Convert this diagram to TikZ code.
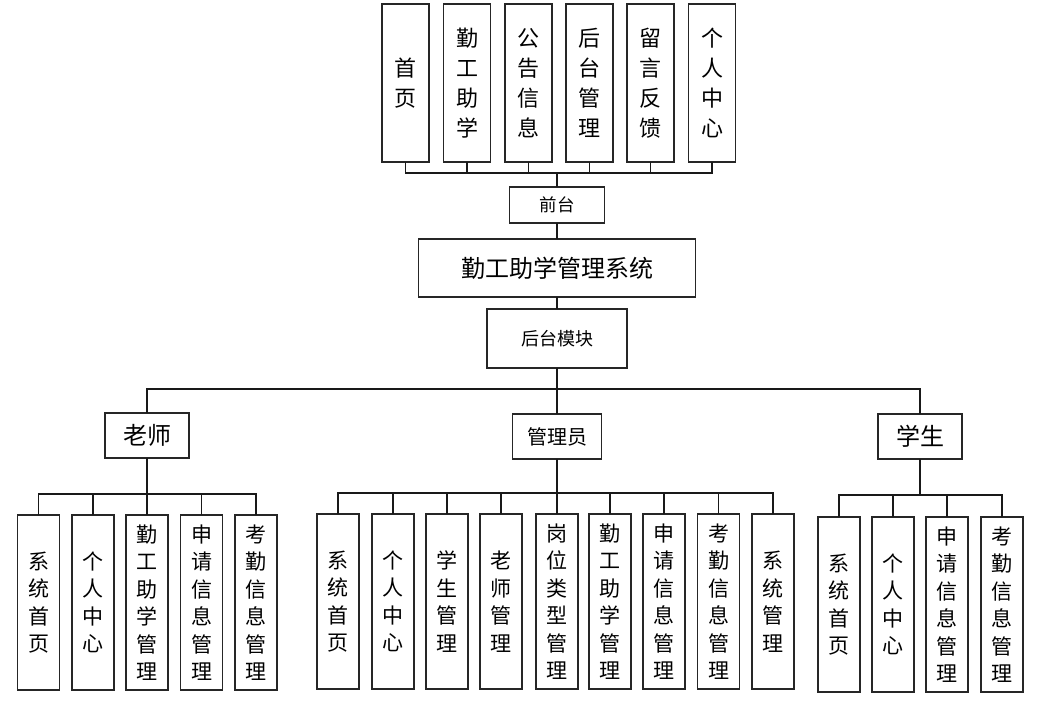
\documentclass[tikz,border=0pt]{standalone}
\usepackage{fontspec}
\setmainfont{Noto Sans CJK SC}
\begin{document}
\begin{tikzpicture}[x=1pt,y=-1pt,
  box/.style={draw=black!85, line width=1.3pt, inner sep=0pt, outer sep=0pt, align=center},
  topbox/.style={box, minimum width=47pt, minimum height=158pt, font=\fontsize{22}{30}\selectfont},
  leaf/.style={box, minimum width=42pt, minimum height=175pt, font=\fontsize{21}{27.5}\selectfont},
  role/.style={box, minimum height=45pt},
  link/.style={line width=1.6pt, draw=black!90}]
\useasboundingbox (0,0) rectangle (1052,704);

% top level
\node[topbox] (t1) at (405.5,83) {首\\页};
\node[topbox] (t2) at (467,83) {勤\\工\\助\\学};
\node[topbox] (t3) at (528.5,83) {公\\告\\信\\息};
\node[topbox] (t4) at (589.5,83) {后\\台\\管\\理};
\node[topbox] (t5) at (650.5,83) {留\\言\\反\\馈};
\node[topbox] (t6) at (712,83) {个\\人\\中\\心};

\node[box, minimum width=95pt, minimum height=36pt, font=\fontsize{17.5}{20}\selectfont] (qt) at (557,205) {前台};
\node[box, minimum width=277pt, minimum height=58pt, font=\fontsize{24}{28}\selectfont] (sys) at (557,268) {勤工助学管理系统};
\node[box, minimum width=140pt, minimum height=59pt, font=\fontsize{18}{22}\selectfont] (ht) at (557,338.5) {后台模块};

\coordinate (topbus) at (557,173);
\draw[link] (qt.north) -- (topbus);
\foreach \n in {t1,t2,t3,t4,t5,t6} \draw[link] (\n.south) |- (topbus);
\draw[link] (qt.south) -- (sys.north);
\draw[link] (sys.south) -- (ht.north);

% roles
\node[role, minimum width=84pt, font=\fontsize{24}{28}\selectfont] (ls) at (147,435.5) {老师};
\node[role, minimum width=89pt, font=\fontsize{20}{24}\selectfont] (gly) at (557,436.5) {管理员};
\node[role, minimum width=84pt, font=\fontsize{24}{28}\selectfont] (xs) at (920,436.5) {学生};

\coordinate (midbus) at (557,389);
\draw[link] (ht.south) -- (midbus);
\foreach \n in {ls,gly,xs} \draw[link] (\n.north) |- (midbus);

% teacher leaves
\node[leaf] (a1) at (38.5,602.5) {系\\统\\首\\页};
\node[leaf] (a2) at (93,602.5) {个\\人\\中\\心};
\node[leaf] (a3) at (147,602.5) {勤\\工\\助\\学\\管\\理};
\node[leaf] (a4) at (201.5,602.5) {申\\请\\信\\息\\管\\理};
\node[leaf] (a5) at (256,602.5) {考\\勤\\信\\息\\管\\理};
\coordinate (abus) at (147,494);
\draw[link] (ls.south) -- (abus);
\foreach \n in {a1,a2,a3,a4,a5} \draw[link] (\n.north) |- (abus);

% admin leaves
\node[leaf] (b1) at (338,601.5) {系\\统\\首\\页};
\node[leaf] (b2) at (393,601.5) {个\\人\\中\\心};
\node[leaf] (b3) at (447,601.5) {学\\生\\管\\理};
\node[leaf] (b4) at (501,601.5) {老\\师\\管\\理};
\node[leaf] (b5) at (557,601.5) {岗\\位\\类\\型\\管\\理};
\node[leaf] (b6) at (610,601.5) {勤\\工\\助\\学\\管\\理};
\node[leaf] (b7) at (664,601.5) {申\\请\\信\\息\\管\\理};
\node[leaf] (b8) at (718.5,601.5) {考\\勤\\信\\息\\管\\理};
\node[leaf] (b9) at (773,601.5) {系\\统\\管\\理};
\coordinate (bbus) at (557,493);
\draw[link] (gly.south) -- (bbus);
\foreach \n in {b1,b2,b3,b4,b5,b6,b7,b8,b9} \draw[link] (\n.north) |- (bbus);

% student leaves
\node[leaf] (c1) at (839,604.5) {系\\统\\首\\页};
\node[leaf] (c2) at (893,604.5) {个\\人\\中\\心};
\node[leaf] (c3) at (947,604.5) {申\\请\\信\\息\\管\\理};
\node[leaf] (c4) at (1002,604.5) {考\\勤\\信\\息\\管\\理};
\coordinate (cbus) at (920,495);
\draw[link] (xs.south) -- (cbus);
\foreach \n in {c1,c2,c3,c4} \draw[link] (\n.north) |- (cbus);
\end{tikzpicture}
\end{document}
